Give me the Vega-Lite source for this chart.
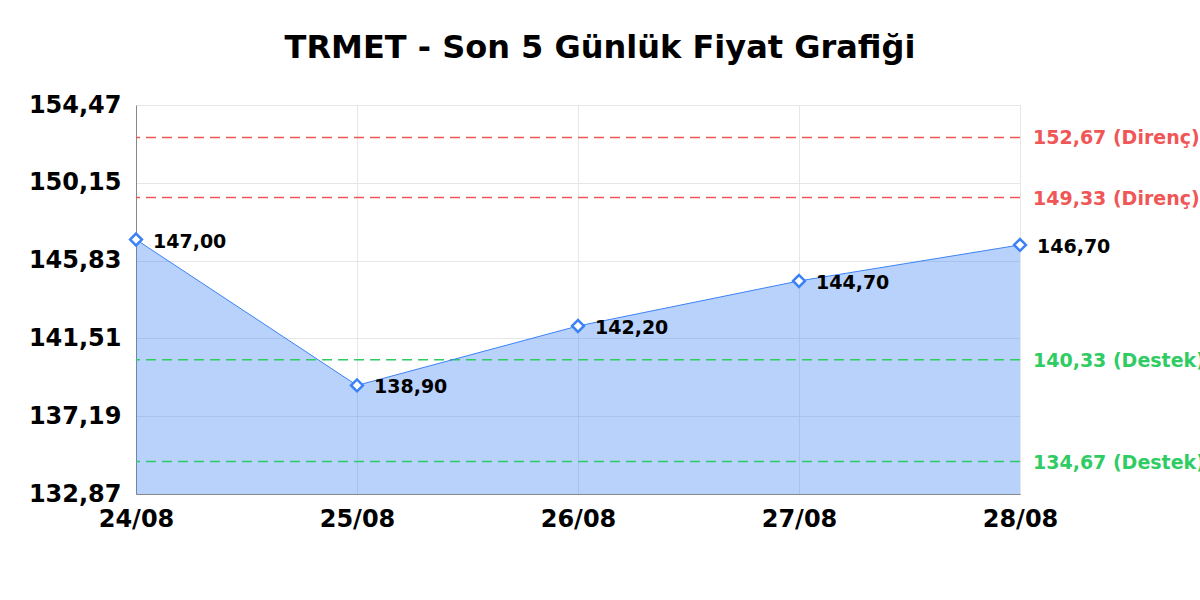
{
  "$schema": "https://vega.github.io/schema/vega-lite/v6.json",
  "autosize": {"type": "none"},
  "width": 884,
  "height": 389,
  "padding": {"left": 136, "top": 105, "right": 180, "bottom": 106},
  "background": "white",
  "config": {
    "locale": {"number": {"decimal": ",", "thousands": ".", "grouping": [3], "currency": ["", " TL"]}},
    "font": "DejaVu Sans",
    "view": {"stroke": "#e6e6e6"}
  },
  "title": {
    "text": "TRMET - Son 5 Günlük Fiyat Grafiği",
    "font": "DejaVu Sans",
    "fontSize": 32,
    "fontWeight": "bold",
    "color": "black",
    "anchor": "middle",
    "offset": 28,
    "dx": 22
  },
  "datasets": {
    "prices": [
      {"date": "24/08", "price": 147.00},
      {"date": "25/08", "price": 138.90},
      {"date": "26/08", "price": 142.20},
      {"date": "27/08", "price": 144.70},
      {"date": "28/08", "price": 146.70}
    ],
    "levels": [
      {"level": 152.67, "kind": "Direnç"},
      {"level": 149.33, "kind": "Direnç"},
      {"level": 140.33, "kind": "Destek"},
      {"level": 134.67, "kind": "Destek"}
    ]
  },
  "data": {"name": "prices"},
  "encoding": {
    "x": {
      "field": "date",
      "type": "ordinal",
      "sort": null,
      "scale": {"type": "point", "padding": 0},
      "axis": {
        "title": null,
        "labelAngle": 0,
        "labelFont": "DejaVu Sans",
        "labelFontSize": 24,
        "labelFontWeight": "bold",
        "labelColor": "black",
        "labelPadding": 13,
        "ticks": false,
        "domainColor": "#888888",
        "gridColor": "#e6e6e6",
        "grid": true
      }
    },
    "y": {
      "field": "price",
      "type": "quantitative",
      "scale": {"domain": [132.87, 154.47], "nice": false, "zero": false},
      "axis": {
        "title": null,
        "values": [132.87, 137.19, 141.51, 145.83, 150.15, 154.47],
        "format": ".2f",
        "labelFont": "DejaVu Sans",
        "labelFontSize": 24,
        "labelFontWeight": "bold",
        "labelColor": "black",
        "labelPadding": 15,
        "ticks": false,
        "domainColor": "#888888",
        "gridColor": "#e6e6e6"
      }
    }
  },
  "layer": [
    {
      "mark": {"type": "area", "color": "#3b82f6", "opacity": 0.36, "clip": true}
    },
    {
      "data": {"name": "levels"},
      "mark": {"type": "rule", "strokeDash": [10, 6], "strokeWidth": 1.5},
      "encoding": {
        "x": null,
        "y": {"field": "level", "type": "quantitative"},
        "color": {
          "field": "kind",
          "type": "nominal",
          "scale": {"domain": ["Direnç", "Destek"], "range": ["#f05656", "#2ecc63"]},
          "legend": null
        }
      }
    },
    {
      "data": {"name": "levels"},
      "transform": [
        {"calculate": "replace(format(datum.level, '.2f'), '.', ',') + ' (' + datum.kind + ')'", "as": "lbl"}
      ],
      "mark": {"type": "text", "align": "left", "baseline": "middle", "dx": 13, "dy": 1, "fontSize": 19, "fontWeight": "bold"},
      "encoding": {
        "x": {"datum": "28/08"},
        "y": {"field": "level", "type": "quantitative"},
        "text": {"field": "lbl"},
        "color": {
          "field": "kind",
          "type": "nominal",
          "scale": {"domain": ["Direnç", "Destek"], "range": ["#f05656", "#2ecc63"]},
          "legend": null
        }
      }
    },
    {
      "mark": {"type": "line", "color": "#3b82f6", "strokeWidth": 1}
    },
    {
      "mark": {"type": "point", "shape": "diamond", "filled": true, "fill": "white", "stroke": "#3b82f6", "strokeWidth": 2.5, "size": 140, "opacity": 1}
    },
    {
      "mark": {"type": "text", "align": "left", "baseline": "middle", "dx": 17, "dy": 2, "fontSize": 19, "fontWeight": "bold", "color": "black"},
      "encoding": {"text": {"field": "price", "type": "quantitative", "format": ".2f"}}
    }
  ]
}
